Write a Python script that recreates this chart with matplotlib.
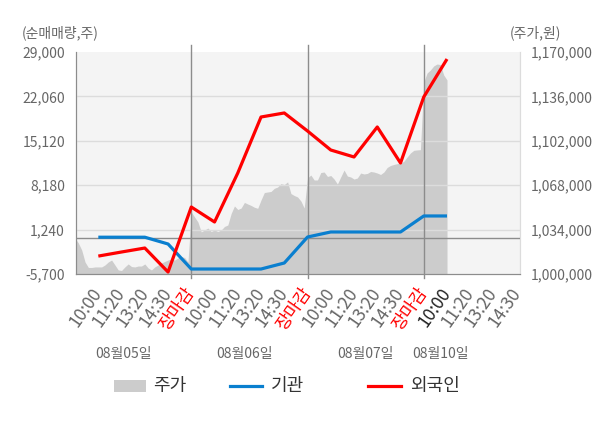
import matplotlib
matplotlib.use("Agg")
import matplotlib.pyplot as plt
import numpy as np
from matplotlib.patches import Rectangle
from matplotlib.lines import Line2D

plt.rcParams['font.family'] = ['Noto Sans CJK KR', 'DejaVu Sans']

# ---- data ----
days = ["08월05일", "08월06일", "08월07일", "08월10일"]
tick_labels = ["10:00", "11:20", "13:20", "14:30", "장마감",
               "10:00", "11:20", "13:20", "14:30", "장마감",
               "10:00", "11:20", "13:20", "14:30", "장마감",
               "10:00", "11:20", "13:20", "14:30"]

# net buying (shares), one value per label slot (k = 1..16)
foreign = [-2900, -2260, -1640, -5390, 4770, 2430, 10090, 18840, 19470,
           16650, 13680, 12590, 17280, 11650, 21970, 27900]
institution = [50, 50, 50, -1010, -4920, -4920, -4920, -4920, -3980,
               80, 870, 870, 870, 870, 3370, 3370]

# intraday price (won)
price_d1 = [1027500, 1023700, 1018400, 1009200, 1005000, 1005000, 1005400, 1005400,
            1005400, 1006900, 1009200, 1010700, 1006900, 1003100, 1002700, 1005400,
            1007700, 1005700, 1005400, 1006100, 1006100, 1007700, 1004600, 1003100,
            1005400, 1006900, 1008400, 1009600, 1010700, 1011500, 1010700, 1012300,
            1013400, 1012600, 1009200]
price_d2 = [1047500, 1043600, 1039800, 1032200, 1033700, 1035200, 1032500, 1033700,
            1032500, 1033700, 1036400, 1037500, 1046300, 1052100, 1049400, 1050500,
            1054800, 1053600, 1052500, 1051100, 1050300, 1056700, 1062400, 1062800,
            1063200, 1065600, 1066600, 1069200, 1068500, 1070500, 1061600, 1060100,
            1059000, 1055900, 1050500]
price_d3 = [1073500, 1075800, 1072000, 1072000, 1077700, 1078100, 1074700, 1075400,
            1072700, 1068900, 1074300, 1079600, 1075000, 1074300, 1072700, 1073500,
            1077300, 1076600, 1077000, 1078500, 1078100, 1077300, 1076200, 1078100,
            1081600, 1083100, 1083900, 1084500, 1084800, 1086300, 1089600, 1092700,
            1094700, 1095000, 1095200]
price_d4 = [1147000, 1153900, 1156200, 1159300, 1160800, 1160400, 1152400, 1148600]

left_ticks = [-5700, 1240, 8180, 15120, 22060, 29000]
right_ticks = [1000000, 1034000, 1068000, 1102000, 1136000, 1170000]

# ---- layout ----
SLOTS = 5        # label slots per day
PER_DAY = 35     # price samples per full day

fig = plt.figure(figsize=(6.0, 4.28), dpi=100)
axp = fig.add_axes([76/600, 1-274/428, 444/600, 222/428])
axn = axp.twinx()

axp.set_facecolor('#f4f4f4')
axn.patch.set_visible(False)

# price area
px, py = [], []
for d, arr in enumerate([price_d1, price_d2, price_d3, price_d4]):
    for i, v in enumerate(arr):
        px.append(SLOTS * d + i * SLOTS / PER_DAY)
        py.append(v)
axp.fill_between(px, py, right_ticks[0], color='#cccccc', lw=0, zorder=1)
axp.set_ylim(right_ticks[0], right_ticks[-1])
axp.set_yticks(right_ticks)
axp.set_yticklabels([f"{v:,}" for v in right_ticks])
axp.yaxis.tick_right()

# net lines
k = np.arange(1, len(foreign) + 1)
axn.set_ylim(left_ticks[0], left_ticks[-1])
axn.set_yticks(left_ticks)
axn.set_yticklabels([f"{v:,}" for v in left_ticks])
axn.yaxis.tick_left()
for t in left_ticks[1:-1]:
    axn.axhline(t, color='#dcdcdc', lw=1, zorder=2)
axn.axhline(0, color='#8c8c8c', lw=1, zorder=3)
axn.plot(k, institution, color='#0a7fcf', lw=2.3, zorder=5, solid_capstyle='butt')
axn.plot(k, foreign, color='#ff0000', lw=2.3, zorder=6, solid_capstyle='butt')

xmax = 19.14
for ax in (axp, axn):
    ax.set_xlim(0.04, xmax)
    ax.spines['top'].set_visible(False)
    ax.spines['left'].set_color('#8c8c8c')
    ax.spines['bottom'].set_color('#8c8c8c')
    ax.spines['right'].set_color('#dcdcdc')
    ax.tick_params(axis='y', length=0, labelsize=10, labelcolor='#666666', pad=8)

# day separators
for d in range(1, len(days)):
    axn.axvline(SLOTS * d, ymin=-0.018, ymax=1.03, color='#8c8c8c', lw=1, clip_on=False, zorder=4)

# x tick labels (on the primary axes, whose x-axis is visible)
pos = np.arange(1, len(tick_labels) + 1)
axp.set_xticks(pos)
axp.set_xticklabels(tick_labels, rotation=55, ha='right', va='center', rotation_mode='anchor')
axp.tick_params(axis='x', length=0, labelsize=12.5, pad=11)
for i, lab in enumerate(axp.get_xticklabels()):
    if tick_labels[i] == "장마감":
        lab.set_color('#ff0000')
    elif i == 15:
        lab.set_color('#222222')
    else:
        lab.set_color('#666666')

# day labels
day_pos = [2.1, 7.3, 12.5, 15.7]
for x, lab in zip(day_pos, days):
    axp.text(x, -0.36, lab, transform=axp.get_xaxis_transform(), ha='center', va='center',
             fontsize=10, color='#666666')

# axis titles
fig.text(22/600, 1-33/428, "(순매매량,주)", ha='left', va='center', fontsize=10, color='#666666')
fig.text(510/600, 1-33/428, "(주가,원)", ha='left', va='center', fontsize=10, color='#666666')

# legend
ly = 1 - 386/428
fig.patches.append(Rectangle((114/600, 1-392/428), 32/600, 12/428, transform=fig.transFigure,
                             facecolor='#cccccc', edgecolor='none'))
fig.text(153/600, ly, "주가", ha='left', va='center', fontsize=13, color='#333333')
fig.lines.append(Line2D([230/600, 262/600], [ly, ly], transform=fig.transFigure, color='#0a7fcf', lw=2.3))
fig.text(271/600, ly, "기관", ha='left', va='center', fontsize=13, color='#333333')
fig.lines.append(Line2D([368/600, 401/600], [ly, ly], transform=fig.transFigure, color='#ff0000', lw=2.3))
fig.text(410/600, ly, "외국인", ha='left', va='center', fontsize=13, color='#333333')

fig.savefig("out.png", dpi=100)
